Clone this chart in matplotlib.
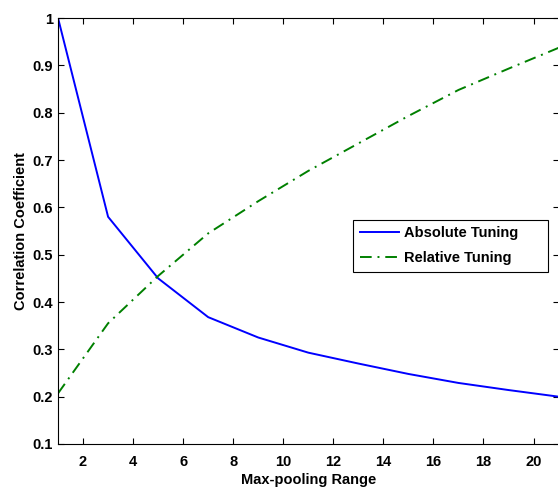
import matplotlib
matplotlib.use("Agg")
import matplotlib.pyplot as plt

# pooling range vs. correlation for the two tuning measures
pool_range = [1, 3, 5, 7, 9, 11, 13, 15, 17, 19, 21]
absolute_tuning = [1.0, 0.58, 0.45, 0.368, 0.325, 0.293, 0.270, 0.248, 0.229, 0.214, 0.200]
relative_tuning = [0.207, 0.355, 0.455, 0.545, 0.613, 0.677, 0.735, 0.793, 0.848, 0.893, 0.937]

x_ticks = [2, 4, 6, 8, 10, 12, 14, 16, 18, 20]
y_ticks = [0.1, 0.2, 0.3, 0.4, 0.5, 0.6, 0.7, 0.8, 0.9, 1.0]
y_tick_labels = ["0.1", "0.2", "0.3", "0.4", "0.5", "0.6", "0.7", "0.8", "0.9", "1"]

plt.rcParams["font.family"] = ["Liberation Sans", "DejaVu Sans"]
plt.rcParams["font.weight"] = "bold"
plt.rcParams["axes.labelweight"] = "bold"

FS = 10.5

fig = plt.figure(figsize=(5.58, 4.87), dpi=100)
ax = fig.add_axes([0.104, 0.0883, 0.897, 0.8747])

ax.plot(pool_range, absolute_tuning, color="#0000ff", lw=1.4, label="Absolute Tuning")
ax.plot(pool_range, relative_tuning, color="#008000", lw=1.4,
        linestyle=(0, (6, 3, 1, 3)), label="Relative Tuning")

ax.set_xlim(1, 21)
ax.set_ylim(0.1, 1.0)
ax.set_xticks(x_ticks)
ax.set_yticks(y_ticks)
ax.set_yticklabels(y_tick_labels)
ax.tick_params(direction="in", length=4, width=0.8, top=True, right=True,
               labelsize=FS)
ax.tick_params(axis="x", pad=8)
ax.tick_params(axis="y", pad=3.5)

ax.set_xlabel("Max-pooling Range", fontsize=FS, labelpad=2.5)
ax.set_ylabel("Correlation Coefficient", fontsize=FS, labelpad=3)

leg = ax.legend(loc="upper left", bbox_to_anchor=(0.59, 0.406, 0.388, 0.12),
                mode="expand", fontsize=FS,
                fancybox=False, framealpha=1, edgecolor="black",
                handlelength=2.7, borderpad=0.45, labelspacing=0.75,
                handletextpad=0.35, borderaxespad=0)
leg.get_frame().set_linewidth(0.8)

fig.savefig("out.png", dpi=100)
